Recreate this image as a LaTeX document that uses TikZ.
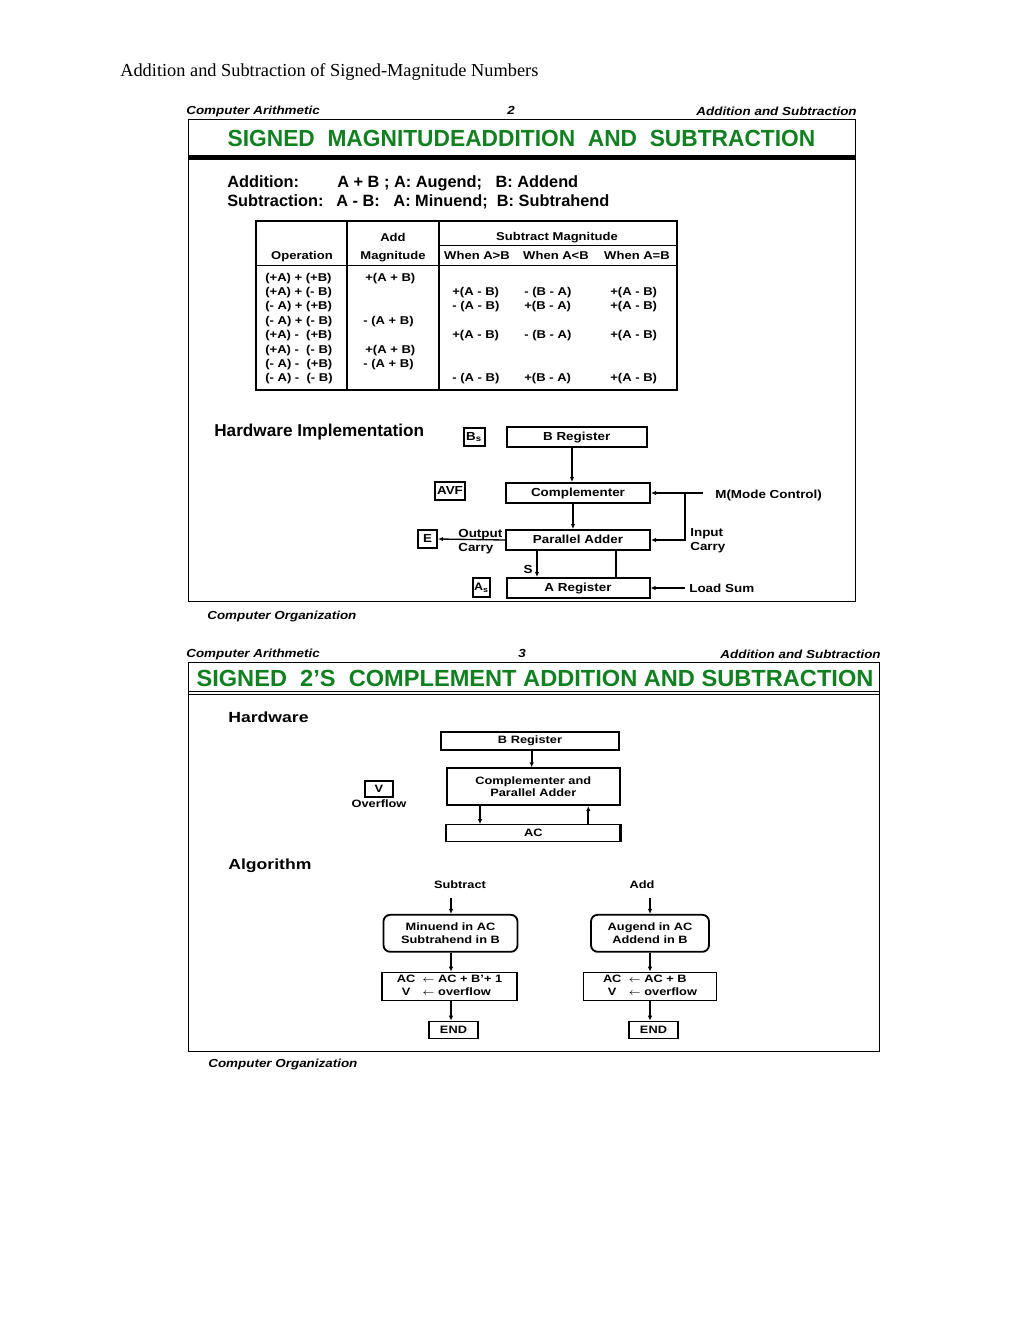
\documentclass[tikz,border=0pt]{standalone}
\usepackage{fontspec}
\setmainfont{Liberation Serif}
\setsansfont{Liberation Sans}
\newfontfamily\wfa[FakeStretch=1.15]{Liberation Sans}
\newfontfamily\wfb[FakeStretch=1.2]{Liberation Sans}
\newfontfamily\arl{Liberation Sans}
\usetikzlibrary{arrows.meta}
\definecolor{tgreen}{RGB}{16,128,32}
\newcommand\fsz[1]{\fontsize{#1}{\dimexpr#1pt*6/5\relax}\selectfont}
\begin{document}
\begin{tikzpicture}[x=0.6pt,y=-0.6pt,
  hdi/.style={font={\wfa\bfseries\itshape\fsz{7}}, inner sep=0},
  bt/.style={font={\arl\bfseries\fsz{9.8}}, inner sep=0},
  tb/.style={font={\wfa\bfseries\fsz{6.8}}, inner sep=0},
  hw/.style={draw, line width=1.2pt, inner sep=0, font={\wfa\bfseries\fsz{7}}, text depth=0.2ex},
  hwt/.style={font={\wfa\bfseries\fsz{7}}, inner sep=0},
  sz/.style 2 args={minimum width=#1*0.6pt, minimum height=#2*0.6pt},
  arr/.style={-{Latex[length=3pt,width=2.6pt]}, line width=0.8pt},
  arr2/.style={-{Latex[length=3pt,width=2.8pt]}, line width=1.1pt},
  s2/.style={font={\wfb\bfseries\fsz{6.4}}, inner sep=0},
  s2box/.style={draw, line width=0.8pt, inner sep=0, s2},
  s2h/.style={font={\wfb\bfseries\fsz{8.8}}, inner sep=0},
  ttl/.style={font={\arl\bfseries\fsz{14}}, text=tgreen, inner sep=0},
]
\useasboundingbox (0,0) rectangle (1020,1320);

% page header
\node[anchor=base west, font=\fsz{11}, inner sep=0] (pagehdr) at (120,76) {Addition and Subtraction of Signed-Magnitude Numbers};

% ================= Slide 1 =================
\node[hdi, anchor=base west] (ca1) at (186,114) {Computer Arithmetic};
\node[hdi, anchor=base] (pg2) at (511,114) {2};
\node[hdi, anchor=base east] (as1) at (857,115) {Addition and Subtraction};
\draw[line width=0.6pt] (188,119) rectangle (855,601);
\node[ttl, anchor=base] (t1) at (521.5,146) {\scalebox{0.975}[1]{SIGNED\ \ MAGNITUDEADDITION\ \ AND\ \ SUBTRACTION}};
\fill (188,155) rectangle (855,160);

\node[bt, anchor=base west] (addl) at (227,187) {Addition:};
\node[bt, anchor=base west] (addr) at (337,187) {A + B ; A: Augend;\ \ \ B: Addend};
\node[bt, anchor=base west] (subl) at (227,206) {Subtraction:};
\node[bt, anchor=base west] (subr) at (336,206) {A - B:\ \ \ A: Minuend;\ \ B: Subtrahend};

% table
\draw[line width=1.4pt] (256,221) rectangle (677,390);
\draw[line width=1pt] (347,221) -- (347,390) (439,221) -- (439,390);
\draw[line width=1pt] (256,265.5) -- (677,265.5);
\draw[line width=0.8pt] (439,245.5) -- (677,245.5);
\node[tb, anchor=base] (hop) at (302,259.5) {Operation};
\node[tb, anchor=base] (hadd) at (393,241) {Add};
\node[tb, anchor=base] (hmag) at (393,259.5) {Magnitude};
\node[tb, anchor=base] (hsub) at (557,240) {Subtract Magnitude};
\node[tb, anchor=base] (hgt) at (477,259.5) {When A>B};
\node[tb, anchor=base] (hlt) at (556,259.5) {When A<B};
\node[tb, anchor=base] (heq) at (637,259.5) {When A=B};
\foreach \t [count=\i] in {(+A) + (+B),(+A) + (- B),(- A) + (+B),(- A) + (- B),(+A) -\ \ (+B),(+A) -\ \ (- B),(- A) -\ \ (+B),(- A) -\ \ (- B)}
  \node[tb, anchor=base west] (op\i) at (265,{281+14.4*(\i-1)}) {\t};
\node[tb, anchor=base west] (am1) at (365,281) {+(A + B)};
\node[tb, anchor=base west] (am4) at (363,324.2) {- (A + B)};
\node[tb, anchor=base west] (am6) at (365,353) {+(A + B)};
\node[tb, anchor=base west] (am7) at (363,367.4) {- (A + B)};
\node[tb, anchor=base west] (g2) at (452,295.4) {+(A - B)};
\node[tb, anchor=base west] (l2) at (524,295.4) {- (B - A)};
\node[tb, anchor=base west] (e2) at (610,295.4) {+(A - B)};
\node[tb, anchor=base west] (g3) at (452,309.8) {- (A - B)};
\node[tb, anchor=base west] (l3) at (524,309.8) {+(B - A)};
\node[tb, anchor=base west] (e3) at (610,309.8) {+(A - B)};
\node[tb, anchor=base west] (g5) at (452,338.6) {+(A - B)};
\node[tb, anchor=base west] (l5) at (524,338.6) {- (B - A)};
\node[tb, anchor=base west] (e5) at (610,338.6) {+(A - B)};
\node[tb, anchor=base west] (g8) at (452,381.8) {- (A - B)};
\node[tb, anchor=base west] (l8) at (524,381.8) {+(B - A)};
\node[tb, anchor=base west] (e8) at (610,381.8) {+(A - B)};

% hardware implementation
\node[anchor=base west, font={\arl\bfseries\fsz{10.3}}, inner sep=0] (hwi) at (214,436) {Hardware Implementation};
\node[hw, sz={21}{18}] (Bs) at (474,437) {B\textsubscript{s}};
\node[hw, sz={140}{20}] (Breg) at (576.7,436.7) {B Register};
\node[hw, sz={30}{18}] (AVF) at (450,491) {AVF};
\node[hw, sz={144}{20}] (Comp) at (578,493) {Complementer};
\node[hw, sz={144}{20}] (PA) at (578,540) {Parallel Adder};
\node[hw, sz={19}{18}] (E) at (427.5,539) {E};
\node[hw, sz={143}{20}] (Areg) at (578,588) {A Register};
\node[hw, sz={17}{19}, font={\wfa\bfseries\fsz{6.5}}] (As) at (481.5,587.5) {A\textsubscript{s}};

\coordinate (x1) at (572,0);
\coordinate (x2) at (573,0);
\coordinate (xs) at (537,0);
\coordinate (xt) at (616,0);
\draw[arr] (Breg.south -| x1) -- (Comp.north -| x1);
\draw[arr, line width=1.5pt] (Comp.south -| x2) -- (PA.north -| x2);
\coordinate (Mend) at (703,493);
\coordinate (Mj) at (685,493);
\node[hwt, anchor=base west] (Mlab) at (715,498) {M(Mode Control)};
\draw[arr] (Mend) -- (Comp.east);
\draw[arr] (Mj) |- (PA.east);
\draw[arr] (PA.west) -- (E.east);
\node[hwt, anchor=base west] (outl) at (458,537.5) {Output};
\node[hwt, anchor=base west] (outc) at (458,551.5) {Carry};
\node[hwt, anchor=base west] (inl) at (690,536) {Input};
\node[hwt, anchor=base west] (inc) at (690,550) {Carry};
\draw[arr] (PA.south -| xs) -- (Areg.north -| xs);
\node[hwt, anchor=base east] (Slab) at (533,573) {S};
\draw[line width=1.5pt] (PA.south -| xt) -- (Areg.north -| xt);
\coordinate (ls) at (685,588);
\draw[arr] (ls) -- (Areg.east);
\node[hwt, anchor=base west] (lsum) at (689,592) {Load Sum};

\node[hdi, anchor=base west] (co1) at (207,619) {Computer Organization};

% ================= Slide 2 =================
\node[hdi, anchor=base west] (ca2) at (186,657) {Computer Arithmetic};
\node[hdi, anchor=base] (pg3) at (522,657) {3};
\node[hdi, anchor=base east] (as2) at (881,658) {Addition and Subtraction};
\draw[line width=0.6pt] (188,662) rectangle (879,1051);
\node[ttl, anchor=base] (t2) at (535,686) {\scalebox{1.012}[1]{SIGNED\ \ 2’S\ \ COMPLEMENT ADDITION AND SUBTRACTION}};
\draw[line width=0.6pt] (188,691) -- (879,691) (188,694.5) -- (879,694.5);

\node[s2h, anchor=base west] (hwl) at (228,722) {Hardware};
\node[s2box, sz={177}{18}] (Breg2) at (530,741) {B Register};
\draw[line width=1.4pt] (Breg2.north west) -- (Breg2.south west) (Breg2.north east) -- (Breg2.south east);
\node[s2box, line width=1.1pt, sz={173}{37}, align=center] (CPA) at (533.3,786.7) {Complementer and\\Parallel Adder};
\node[s2box, sz={173}{17}] (AC) at (533.3,833.3) {AC};
\draw[line width=1.4pt] (AC.north west) -- (AC.south west) (AC.north east) -- (AC.south east);
\node[s2box, line width=1.1pt, sz={28}{16}] (V) at (379,789) {V};
\node[s2, anchor=north] (ovf) at (379,799) {Overflow};
\coordinate (y1) at (531.7,0);
\coordinate (y2) at (480,0);
\coordinate (y3) at (588.3,0);
\draw[arr2] (Breg2.south -| y1) -- (CPA.north -| y1);
\draw[arr2] (CPA.south -| y2) -- (AC.north -| y2);
\draw[arr2] (AC.north -| y3) -- (CPA.south -| y3);

\node[s2h, anchor=base west] (alg) at (228,869) {Algorithm};
\node[s2, anchor=base] (subt) at (460,888) {Subtract};
\node[s2, anchor=base] (addt) at (642,888) {Add};
\node[s2box, line width=1.1pt, sz={134}{37}, rounded corners=4pt, align=center] (MinB) at (450.5,933.3) {Minuend in AC\\Subtrahend in B};
\node[s2box, line width=1.1pt, sz={135}{28}] (ACb1) at (449.5,986.5) {\begin{tabular}{@{}c@{\ \ }l@{}}AC & $\leftarrow$ AC + B’+ 1\\[0.5pt] V & $\leftarrow$ overflow\end{tabular}};
\node[s2box, line width=1.1pt, sz={49}{17}] (END1) at (453.5,1030) {END};
\node[s2box, line width=1.1pt, sz={118}{37}, rounded corners=4pt, align=center] (AugB) at (650,933.3) {Augend in AC\\Addend in B};
\node[s2box, line width=1.1pt, sz={133}{28}] (ACb2) at (650,986.5) {\begin{tabular}{@{}c@{\ \ }l@{}}AC & $\leftarrow$ AC + B\\[0.5pt] V & $\leftarrow$ overflow\end{tabular}};
\node[s2box, line width=1.1pt, sz={49}{17}] (END2) at (653.5,1030) {END};
\coordinate (a1top) at (451,898);
\coordinate (a2top) at (650,898);
\coordinate (z1) at (451,0);
\coordinate (z2) at (650,0);
\draw[arr2] (a1top) -- (MinB.north -| z1);
\draw[arr2] (MinB.south -| z1) -- (ACb1.north -| z1);
\draw[arr2] (ACb1.south -| z1) -- (END1.north -| z1);
\draw[arr2] (a2top) -- (AugB.north -| z2);
\draw[arr2] (AugB.south -| z2) -- (ACb2.north -| z2);
\draw[arr2] (ACb2.south -| z2) -- (END2.north -| z2);

\node[hdi, anchor=base west] (co2) at (208,1067) {Computer Organization};
\end{tikzpicture}
\end{document}
